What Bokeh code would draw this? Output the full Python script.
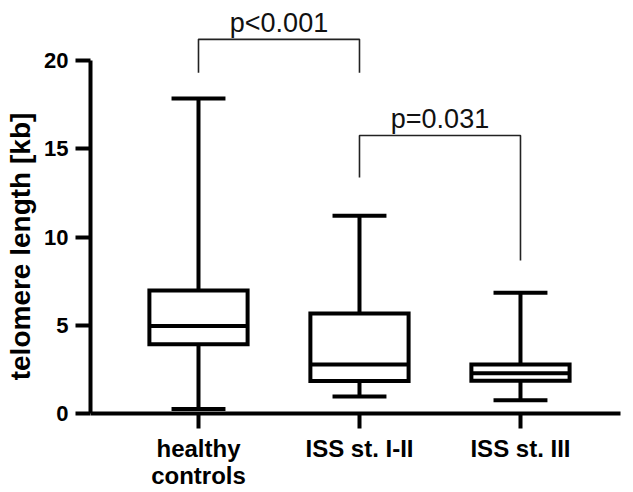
from bokeh.plotting import figure
from bokeh.models import FixedTicker, Range1d
from bokeh.core.properties import value
from bokeh.embed import file_html
from bokeh.resources import INLINE

# ---- data ----
categories = ["healthy\ncontrols", "ISS st. I-II", "ISS st. III"]
xpos = [1, 2, 3]
whisker_low = [0.25, 0.96, 0.75]
q1 = [3.92, 1.84, 1.85]
median = [4.96, 2.78, 2.28]
q3 = [6.97, 5.67, 2.78]
whisker_high = [17.85, 11.2, 6.84]
y_ticks = [0, 5, 10, 15, 20]

# significance brackets: (x_left, x_right, top, left_leg_end, right_leg_end, label)
brackets = [
    (1, 2, 21.2, 19.3, 19.3, "p<0.001"),
    (2, 3, 15.75, 13.37, 8.67, "p=0.031"),
]
label_y = [22.1, 16.66]

FONT = "Liberation Sans"

p = figure(width=633, height=492, output_backend="svg", toolbar_location=None,
           x_range=Range1d(0.3292, 3.702), y_range=Range1d(-4.476, 23.40),
           min_border_left=90, min_border_right=0, min_border_top=0, min_border_bottom=0)
p.outline_line_color = None
p.xgrid.visible = False
p.ygrid.visible = False
p.background_fill_color = "white"

# whiskers
p.segment(x0=xpos, y0=q3, x1=xpos, y1=whisker_high, line_color="black", line_width=4)
p.segment(x0=xpos, y0=whisker_low, x1=xpos, y1=q1, line_color="black", line_width=4)
cap_w = 0.335
p.segment(x0=[x - cap_w / 2 for x in xpos], y0=whisker_high,
          x1=[x + cap_w / 2 for x in xpos], y1=whisker_high, line_color="black", line_width=4)
p.segment(x0=[x - cap_w / 2 for x in xpos], y0=whisker_low,
          x1=[x + cap_w / 2 for x in xpos], y1=whisker_low, line_color="black", line_width=4)

# boxes
box_w = 0.61
p.vbar(x=xpos, width=box_w, bottom=q1, top=q3, fill_color="white",
       line_color="black", line_width=4, line_join="miter")
p.segment(x0=[x - box_w / 2 for x in xpos], y0=median,
          x1=[x + box_w / 2 for x in xpos], y1=median, line_color="black", line_width=4)

# brackets
xs, ys = [], []
for (xl, xr, top, ll, rl, _) in brackets:
    xs.append([xl, xl, xr, xr])
    ys.append([ll, top, top, rl])
p.multi_line(xs=xs, ys=ys, line_color="#222222", line_width=1.6)
p.text(x=[(b[0] + b[1]) / 2 for b in brackets], y=label_y, text=[b[5] for b in brackets],
       text_font=value(FONT), text_font_size="27px", text_align="center",
       text_baseline="alphabetic", text_color="#111111")

# axes
for ax in (p.xaxis[0], p.yaxis[0]):
    ax.axis_line_width = 4
    ax.axis_line_color = "black"
    ax.major_tick_line_width = 4
    ax.major_tick_line_color = "black"
    ax.major_tick_out = 15
    ax.major_tick_in = 0
    ax.minor_tick_line_color = None
    ax.major_label_text_font = FONT
    ax.major_label_text_font_style = "bold"
    ax.major_label_text_color = "black"

p.yaxis.ticker = FixedTicker(ticks=y_ticks)
p.yaxis.bounds = (0, 20)
p.yaxis.major_label_text_font_size = "22px"
p.yaxis.major_label_standoff = 7
p.yaxis.axis_label = "telomere length [kb]"
p.yaxis.axis_label_text_font = FONT
p.yaxis.axis_label_text_font_style = "bold"
p.yaxis.axis_label_text_font_size = "28px"
p.yaxis.axis_label_text_color = "black"
p.yaxis.axis_label_standoff = 5

p.xaxis.fixed_location = 0
p.xaxis.ticker = FixedTicker(ticks=xpos)
p.xaxis.bounds = (0.3292, 3.621)
p.xaxis.major_label_overrides = {x: c for x, c in zip(xpos, categories)}
p.xaxis.major_label_text_font_size = "24px"
p.xaxis.major_label_text_line_height = 1.0
p.xaxis.major_label_standoff = 6

open("out.html", "w").write(file_html(p, INLINE))
